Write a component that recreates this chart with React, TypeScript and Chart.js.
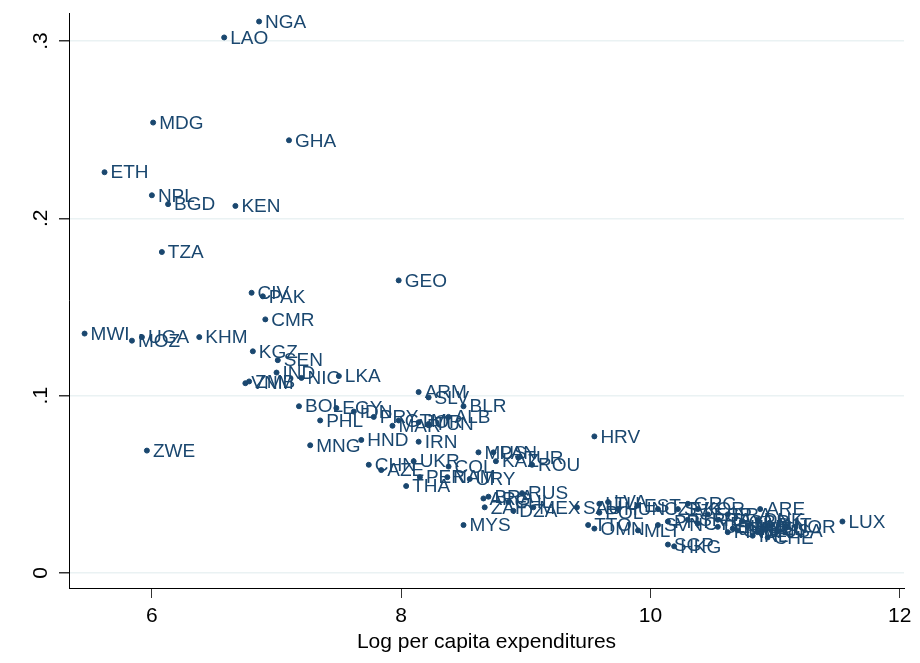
import { Chart, registerables } from 'chart.js'
import { useEffect, useRef } from 'react'

Chart.register(...registerables)

// country codes, log per capita expenditures, share
const countries = ['NGA','LAO','MDG','GHA','ETH','NPL','BGD','KEN','TZA','GEO','CIV','PAK','CMR','MWI','UGA','MOZ','KHM','KGZ','SEN','IND','ZMB','VNM','NIC','LKA','ARM','SLV','BLR','BOL','EGY','PHL','IDN','PRY','GTM','MAR','JOR','TUN','ALB','MNG','HND','IRN','MUS','PAN','KAZ','TUR','ROU','HRV','CHN','AZE','UKR','PER','COL','NAM','URY','THA','ARG','BRA','RUS','ZAF','CHL','MEX','DZA','MYS','SAU','LTU','LVA','POL','HUN','EST','CZE','SVK','GRC','KOR','ISR','PRT','SVN','ESP','ITA','FRA','GBR','JPN','DEU','DNK','NLD','AUT','SWE','FIN','IRL','BEL','NOR','USA','ARE','LUX','SGP','HKG','CHE','CAN','AUS','OMN','TTO','MLT','CYP','ZWE']
const logExp = [6.86,6.58,6.01,7.10,5.62,6.00,6.13,6.67,6.08,7.98,6.80,6.89,6.91,5.46,5.92,5.84,6.38,6.81,7.01,7.00,6.78,6.75,7.20,7.50,8.14,8.22,8.50,7.18,7.48,7.35,7.62,7.78,7.98,7.93,8.14,8.22,8.38,7.27,7.68,8.14,8.62,8.74,8.76,8.94,9.05,9.55,7.74,7.84,8.10,8.15,8.38,8.37,8.55,8.04,8.66,8.70,8.97,8.67,8.86,9.06,8.90,8.50,9.41,9.59,9.66,9.59,9.74,9.90,10.06,10.22,10.30,10.38,10.30,10.14,10.06,10.46,10.54,10.62,10.74,10.66,10.54,10.86,10.78,10.94,10.70,10.62,10.82,10.90,11.10,11.02,10.88,11.54,10.14,10.19,10.94,10.86,10.78,9.55,9.50,9.90,10.38,5.96]
const share = [.311,.302,.254,.244,.226,.213,.208,.207,.181,.165,.158,.156,.143,.135,.133,.131,.133,.125,.120,.113,.108,.107,.110,.111,.102,.099,.094,.094,.093,.086,.091,.088,.086,.083,.085,.084,.088,.072,.075,.074,.068,.068,.063,.065,.061,.077,.061,.058,.063,.054,.060,.054,.053,.049,.042,.043,.045,.037,.040,.037,.035,.027,.037,.039,.040,.034,.036,.038,.036,.036,.039,.036,.030,.029,.027,.033,.030,.033,.029,.025,.026,.030,.027,.027,.024,.023,.021,.025,.026,.024,.036,.029,.016,.015,.020,.023,.026,.025,.027,.024,.028,.069]
const xTicks = [6, 8, 10, 12]
const yTicks = [0, 0.1, 0.2, 0.3]
const yTickLabels = ['0', '.1', '.2', '.3']

const navy = '#1a476f'
const font = '"Liberation Sans", Arial, sans-serif'

const labelPlugin = {
	id: 'labels',
	afterDatasetsDraw(chart: any) {
		const { ctx, scales } = chart
		ctx.save()
		ctx.font = `19px ${font}`
		ctx.fillStyle = navy
		ctx.textBaseline = 'middle'
		countries.forEach((c, i) => {
			const px = scales.x.getPixelForValue(logExp[i])
			const py = scales.y.getPixelForValue(share[i])
			ctx.fillText(c, px + 6, py + 1)
		})
		// rotated y tick labels
		ctx.font = `21px ${font}`
		ctx.fillStyle = '#000'
		ctx.textAlign = 'center'
		yTicks.forEach((v, i) => {
			const py = scales.y.getPixelForValue(v)
			ctx.save()
			ctx.translate(33, py)
			ctx.rotate(-Math.PI / 2)
			ctx.fillText(yTickLabels[i], 0, 0)
			ctx.restore()
		})
		ctx.restore()
	}
}

export default function App() {
	const canvasRef = useRef<HTMLCanvasElement | null>(null)

	useEffect(() => {
		if (!canvasRef.current) return
		const chart = new Chart(canvasRef.current, {
			type: 'scatter',
			data: {
				datasets: [
					{
						data: logExp.map((x, i) => ({ x, y: share[i] })),
						backgroundColor: navy,
						borderColor: navy,
						pointRadius: 2.5
					}
				]
			},
			options: {
				animation: false,
				responsive: false,
				layout: { padding: 0 },
				scales: {
					x: {
						type: 'linear',
						min: 5.335,
						max: 12.034,
						afterBuildTicks: (s: any) => {
							s.ticks = xTicks.map((value) => ({ value }))
						},
						afterFit: (s: any) => {
							s.height = 67
							s.paddingRight = 8
						},
						grid: { color: 'rgba(0,0,0,0)', tickColor: '#333', tickLength: 10, drawOnChartArea: false },
						border: { color: '#000' },
						ticks: { color: '#000', font: { size: 21, family: font }, maxRotation: 0, padding: 6 },
						title: { display: true, text: 'Log per capita expenditures', color: '#000', font: { size: 21, family: font }, padding: { top: 0, bottom: 0 } }
					},
					y: {
						type: 'linear',
						min: -0.0085,
						max: 0.3158,
						afterBuildTicks: (s: any) => {
							s.ticks = yTicks.map((value) => ({ value }))
						},
						afterFit: (s: any) => {
							s.width = 61
						},
						grid: { color: '#eaf2f3', lineWidth: 1.5, tickColor: '#333', tickLength: 10 },
						border: { color: '#000' },
						ticks: { display: false }
					}
				},
				plugins: { legend: { display: false }, tooltip: { enabled: false } }
			},
			plugins: [labelPlugin]
		})
		return () => chart.destroy()
	}, [])

	return (
		<div style={{ width: 904, height: 647 }}>
			<canvas ref={canvasRef} width={904} height={647} />
		</div>
	)
}
